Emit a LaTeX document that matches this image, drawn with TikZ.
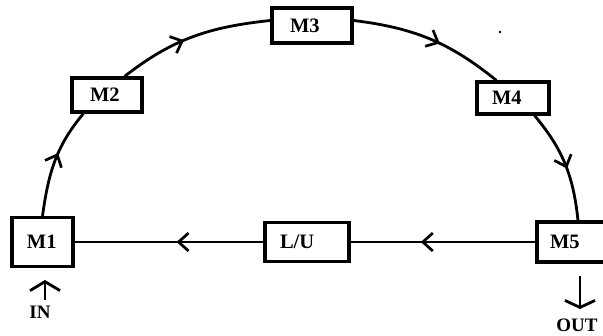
\documentclass[tikz,border=0pt]{standalone}
\usepackage{fontspec}
\setmainfont{Liberation Serif}
\usetikzlibrary{arrows.meta,decorations.markings,calc}

\begin{document}
\begin{tikzpicture}[x=1pt,y=-1pt,
  % machine box: #1 = left padding of the label, #2 = label width
  mbox/.style 2 args={draw, line width=3.2pt, inner xsep=#1, inner ysep=0pt,
    text width=#2, align=left, font=\fontsize{20.5}{22}\selectfont\bfseries},
  arc/.style={line width=2.8pt},
  flow/.style={line width=2.2pt},
  midtip/.style={postaction={decorate, decoration={markings,
    mark=at position #1 with {\arrow{Straight Barb[length=10pt,width=18pt,line width=2.7pt]}}}}},
  iolabel/.style={inner sep=0pt, font=\fontsize{19}{21}\selectfont\bfseries},
  ioarrow/.style={line width=2.8pt}
]
\useasboundingbox (0,0) rectangle (603,336);

% machines on the loop
\node[mbox={15pt}{31pt}, minimum height=49pt] (m1) at (42.5,242) {M1};
\node[mbox={18pt}{34pt}, minimum height=34pt] (m2) at (107,95) {M2};
\node[mbox={18pt}{44pt}, minimum height=35pt] (m3) at (312,25.5) {M3};
\node[mbox={15pt}{42pt}, minimum height=32pt] (m4) at (513,98) {M4};
\node[mbox={13pt}{48pt}, minimum height=40pt] (m5) at (574,242) {M5};
\node[mbox={15pt}{54pt}, minimum height=39pt] (lu) at (307,242) {L/U};

% stray dot
\node[circle, fill, inner sep=0pt, minimum size=2.8pt] (dot) at (500,32) {};

% upper arc M1 -> M2 -> M3 -> M4 -> M5
\draw[arc, midtip=0.58] (m1.north) to[out=82,in=230] ([xshift=13pt]m2.south west);
\draw[arc, midtip=0.44] ([xshift=-19pt]m2.north east) to[out=38,in=186] ([yshift=5pt]m3.west);
\draw[arc, midtip=0.57] ([yshift=5pt]m3.east) to[out=-7,in=141] ([xshift=21pt]m4.north west);
\draw[arc, midtip=0.54] ([xshift=-16pt]m4.south east) to[out=-50,in=96] ([xshift=4pt]m5.north);

% return line M5 -> L/U -> M1
\draw[flow, midtip=0.62] (m5.west) -- (lu.east);
\draw[flow, midtip=0.46] (lu.west) -- (m1.east);

% input and output
\node[iolabel] (in) at (40,312) {IN};
\coordinate (intail) at (45,300);
\coordinate (intip) at (45,280);
\draw[ioarrow, -{Straight Barb[length=9pt,width=30pt,line width=2.8pt]}] (intail) -- (intip);

\node[iolabel] (out) at (577,325.5) {OUT};
\coordinate (outtail) at (580,276);
\coordinate (outtip) at (580,309);
\draw[ioarrow, -{Straight Barb[length=7pt,width=30pt,line width=2.8pt]}] (outtail) -- (outtip);
\end{tikzpicture}
\end{document}
